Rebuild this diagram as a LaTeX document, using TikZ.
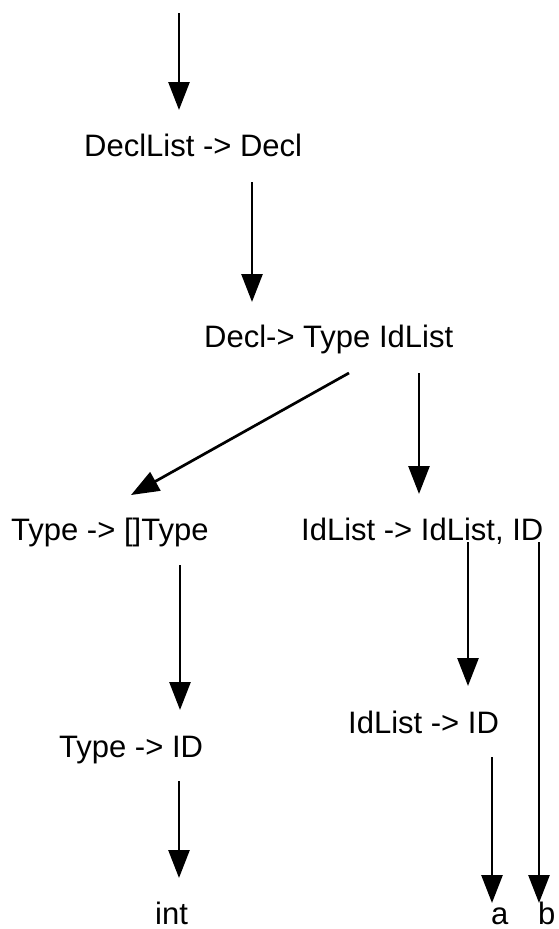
\documentclass[tikz,border=0pt]{standalone}
\usepackage{fontspec}
\setmainfont{Liberation Sans}
\usetikzlibrary{arrows.meta}
\begin{document}
\begin{tikzpicture}[x=1pt,y=-1pt,
  rule/.style={anchor=base west,inner sep=0pt,font=\fontsize{31}{37}\selectfont},
  edge/.style={line width=2.7pt,-{Triangle[width=21pt,length=28pt]}}]
\useasboundingbox (0,0) rectangle (558,929);
% production labels
\node[rule] (dl)   at (84,156)  {DeclList -> Decl};
\node[rule] (decl) at (204,347) {Decl-> Type IdList};
\node[rule] (ty1)  at (11,540)  {Type -> []Type};
\node[rule] (id1)  at (301,540) {IdList -> IdList, ID};
\node[rule] (ty2)  at (59,757)  {Type -> ID};
\node[rule] (id2)  at (348,733) {IdList -> ID};
\node[rule] (int)  at (155,924) {int};
\node[rule] (a)    at (491,924) {a};
\node[rule] (b)    at (538,924) {b};
% connector end points
\coordinate (top)  at (179,13);
\coordinate (dlT)  at (179,110);
\coordinate (dlB)  at (252,182);
\coordinate (dcT)  at (252,302);
\coordinate (dcL)  at (349,373);
\coordinate (dcR)  at (419,373);
\coordinate (t1T)  at (131,495);
\coordinate (i1T)  at (419,494);
\coordinate (t1B)  at (180,565);
\coordinate (t2T)  at (180,710);
\coordinate (t2B)  at (179,781);
\coordinate (inT)  at (179,878);
\coordinate (i1L)  at (468,542);
\coordinate (i2T)  at (468,686);
\coordinate (i1R)  at (539,542);
\coordinate (bT)   at (539,903);
\coordinate (i2B)  at (492,757);
\coordinate (aT)   at (492,903);
% derivation arrows
\draw[edge] (top) -- (dlT);
\draw[edge] (dlB) -- (dcT);
\draw[edge] (dcL) -- (t1T);
\draw[edge] (dcR) -- (i1T);
\draw[edge] (t1B) -- (t2T);
\draw[edge] (t2B) -- (inT);
\draw[edge] (i1L) -- (i2T);
\draw[edge] (i2B) -- (aT);
\draw[edge] (i1R) -- (bT);
\end{tikzpicture}
\end{document}
